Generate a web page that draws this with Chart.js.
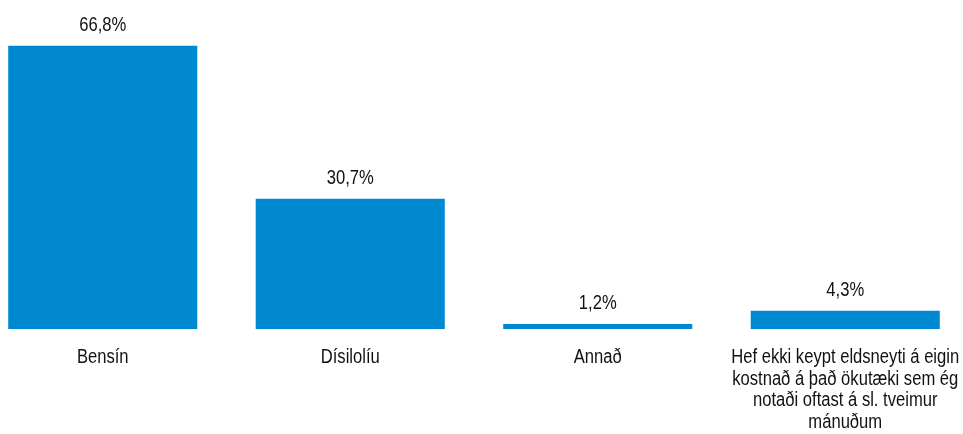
<!DOCTYPE html>
<html>
<head>
<meta charset="utf-8">
<script src="https://cdn.jsdelivr.net/npm/chart.js@4/dist/chart.umd.min.js"></script>
<style>
  html, body { margin: 0; padding: 0; background: #fff; overflow: hidden; }
  #wrap { position: absolute; left: -21px; top: 0; width: 990px; height: 434px; }
</style>
</head>
<body>
<div id="wrap"><canvas id="chart"></canvas></div>
<script>
// --- DATA ---
const categories = [
  'Bensín',
  'Dísilolíu',
  'Annað',
  ['Hef ekki keypt eldsneyti á eigin', 'kostnað á það ökutæki sem ég', 'notaði oftast á sl. tveimur', 'mánuðum']
];
const values = [66.8, 30.7, 1.2, 4.3];

// no narrow font installed, so squeeze Liberation Sans horizontally
const FONT = "20px 'Liberation Sans', Arial, sans-serif";
const SQUEEZE = 0.83;
const TEXT_COLOR = '#111';

function fmt(v) { return v.toFixed(1).replace('.', ',') + '%'; }

function narrowText(ctx, text, x, y) {
  ctx.save();
  ctx.translate(x, y);
  ctx.scale(SQUEEZE, 1);
  ctx.fillText(text, 0, 0);
  ctx.restore();
}

// value labels above bars + category labels below
const textLayer = {
  id: 'textLayer',
  afterDatasetsDraw(chart) {
    const ctx = chart.ctx;
    const meta = chart.getDatasetMeta(0);
    const base = chart.chartArea.bottom;
    ctx.save();
    ctx.font = FONT;
    ctx.fillStyle = TEXT_COLOR;
    ctx.textAlign = 'center';
    ctx.textBaseline = 'alphabetic';
    meta.data.forEach((bar, i) => {
      narrowText(ctx, fmt(values[i]), bar.x, bar.y - 15);
      const lines = Array.isArray(categories[i]) ? categories[i] : [categories[i]];
      lines.forEach((line, j) => {
        narrowText(ctx, line, bar.x, base + 34 + j * 21.5);
      });
    });
    ctx.restore();
  }
};

const ctx = document.getElementById('chart').getContext('2d');
new Chart(ctx, {
  type: 'bar',
  data: {
    labels: categories,
    datasets: [{
      data: values,
      backgroundColor: '#0089d1',
      borderWidth: 0,
      barPercentage: 0.764,
      categoryPercentage: 1.0
    }]
  },
  options: {
    responsive: true,
    maintainAspectRatio: false,
    animation: false,
    layout: { padding: { top: 0, bottom: 105, left: 0, right: 0 } },
    plugins: { legend: { display: false }, tooltip: { enabled: false } },
    scales: {
      x: { display: false },
      y: { display: false, min: 0, max: 77.6 }
    }
  },
  plugins: [textLayer]
});
</script>
</body>
</html>
